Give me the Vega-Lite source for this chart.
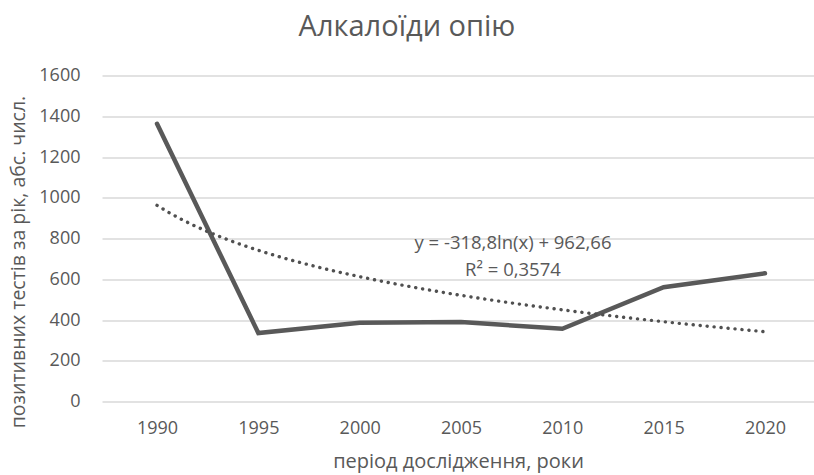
{
  "$schema": "https://vega.github.io/schema/vega-lite/v6.json",
  "width": 712,
  "height": 326,
  "autosize": {"type": "none"},
  "padding": {"left": 102, "top": 75.5, "right": 0, "bottom": 73.5},
  "background": "white",
  "config": {
    "view": {"stroke": null},
    "font": "Open Sans",
    "axis": {"labelColor": "#595959", "titleColor": "#595959", "labelFont": "Open Sans", "titleFont": "Open Sans", "titleFontWeight": "normal"}
  },
  "title": {
    "text": "Алкалоїди опію",
    "fontSize": 29,
    "fontWeight": "normal",
    "color": "#595959",
    "font": "Open Sans",
    "anchor": "middle",
    "dx": -51,
    "offset": 25
  },
  "data": {
    "values": [
      {"t": 1, "year": 1990, "v": 1363},
      {"t": 2, "year": 1995, "v": 336},
      {"t": 3, "year": 2000, "v": 386},
      {"t": 4, "year": 2005, "v": 390},
      {"t": 5, "year": 2010, "v": 357},
      {"t": 6, "year": 2015, "v": 561},
      {"t": 7, "year": 2020, "v": 629}
    ]
  },
  "layer": [
    {
      "mark": {"type": "line", "color": "#595959", "strokeWidth": 4.5, "strokeCap": "round"},
      "encoding": {
        "x": {
          "field": "t", "type": "quantitative",
          "scale": {"domain": [0.457, 7.484], "nice": false, "zero": false},
          "axis": {
            "values": [1, 2, 3, 4, 5, 6, 7],
            "labelExpr": "1985 + 5 * datum.value",
            "grid": false, "domain": false, "ticks": false, "tickSize": 0,
            "labelFontSize": 18, "labelPadding": 18,
            "title": "період дослідження, роки",
            "titleFontSize": 20, "titleY": 60, "titleBaseline": "middle"
          }
        },
        "y": {
          "field": "v", "type": "quantitative",
          "scale": {"domain": [0, 1600], "nice": false},
          "axis": {
            "values": [0, 200, 400, 600, 800, 1000, 1200, 1400, 1600],
            "format": "d",
            "grid": true, "gridColor": "#d9d9d9", "gridWidth": 1.3,
            "domain": false, "ticks": false, "tickSize": 0,
            "labelFontSize": 18, "labelPadding": 22,
            "title": "позитивних тестів за рік, абс. числ.",
            "titleFontSize": 19.5, "titleAngle": -90, "titleX": -84, "titleY": 186,
            "titleAlign": "center", "titleBaseline": "middle"
          }
        }
      }
    },
    {
      "transform": [{"regression": "v", "on": "t", "method": "log"}],
      "mark": {"type": "line", "color": "#505050", "strokeWidth": 3.4, "strokeCap": "round", "strokeDash": [0.1, 6.9]},
      "encoding": {
        "x": {"field": "t", "type": "quantitative"},
        "y": {"field": "v", "type": "quantitative"}
      }
    },
    {
      "data": {"values": [{"label": "trend"}]},
      "mark": {"type": "text", "color": "#595959", "fontSize": 18.5, "fontWeight": "normal", "font": "Open Sans", "align": "center", "baseline": "middle", "lineHeight": 27},
      "encoding": {
        "x": {"datum": 4.513, "type": "quantitative"},
        "y": {"datum": 780, "type": "quantitative"},
        "text": {"value": ["y = -318,8ln(x) + 962,66", "R² = 0,3574"]}
      }
    }
  ]
}
